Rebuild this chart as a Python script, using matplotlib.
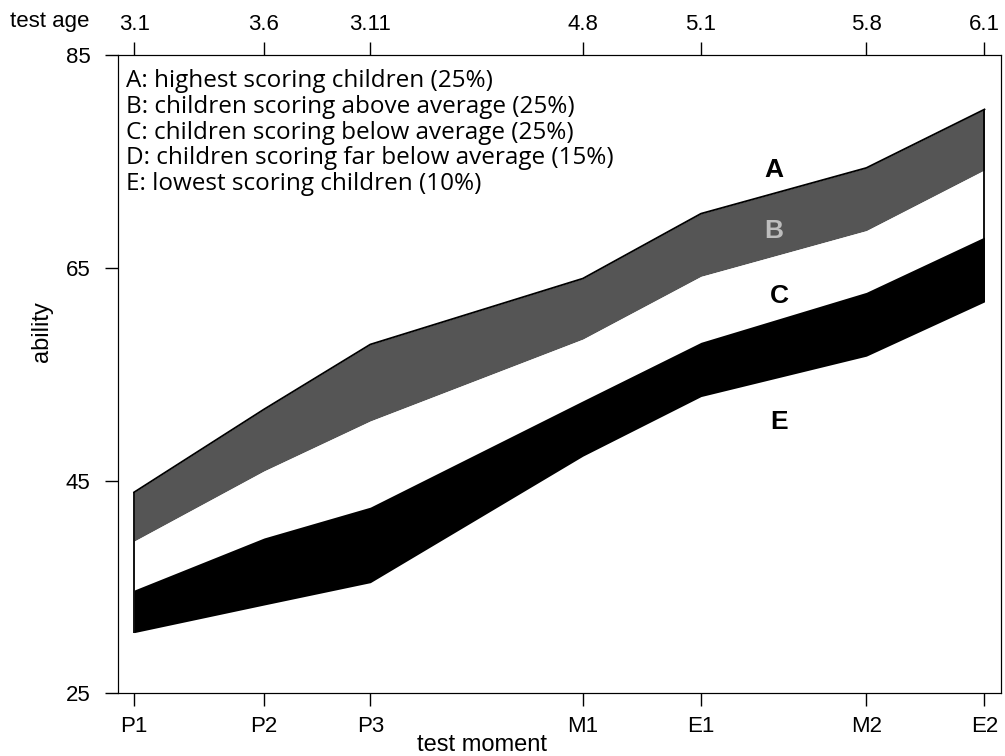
import numpy as np
import matplotlib
matplotlib.use("Agg")
import matplotlib.pyplot as plt

plt.rcParams['font.family'] = ['Liberation Sans', 'DejaVu Sans']

# test moments, placed by age in months
moments = ['P1', 'P2', 'P3', 'M1', 'E1', 'M2', 'E2']
ages = ['3.1', '3.6', '3.11', '4.8', '5.1', '5.8', '6.1']
age_months = [37, 42.5, 47, 56, 61, 68, 73]

# band boundaries (ability)
top_line = [43.9, 51.7, 57.8, 64.0, 70.1, 74.4, 79.9]
line_bc = [39.3, 45.9, 50.6, 58.3, 64.2, 68.5, 74.2]
line_cd = [34.7, 39.6, 42.5, 52.5, 58.0, 62.7, 67.9]
bottom_line = [30.7, 33.3, 35.4, 47.3, 52.9, 56.7, 61.8]

legend_lines = [
    'A: highest scoring children (25%)',
    'B: children scoring above average (25%)',
    'C: children scoring below average (25%)',
    'D: children scoring far below average (15%)',
    'E: lowest scoring children (10%)',
]

fig = plt.figure(figsize=(10.05, 7.56), dpi=100)
ax = fig.add_axes([0.117, 0.083, 0.879, 0.844])

x = np.array(age_months)
ax.fill_between(x, line_bc, top_line, color='#555555', lw=0)
ax.fill_between(x, line_cd, line_bc, color='white', lw=0)
ax.fill_between(x, bottom_line, line_cd, color='black', lw=0)
ax.plot(x, top_line, color='black', lw=1.3)
ax.vlines([x[0], x[-1]], [bottom_line[0], bottom_line[-1]], [top_line[0], top_line[-1]],
          color='black', lw=1.3)

ax.set_xlim(36.3, 73.7)
ax.set_ylim(25, 85)
ax.set_yticks([25, 45, 65, 85])
ax.set_xticks(x)
ax.set_xticklabels(moments)
ax.tick_params(direction='out', length=9.5, width=1, labelsize=16)
ax.tick_params(axis='x', pad=7)
ax.tick_params(axis='y', pad=10)

top = ax.twiny()
top.set_xlim(ax.get_xlim())
top.set_xticks(x)
top.set_xticklabels(ages)
top.tick_params(direction='out', length=9.5, width=1, labelsize=16, pad=5)

fig.text(10 / 1005, 1 - 22 / 756, 'test age', fontsize=16, va='center', ha='left')
fig.text(482 / 1005, 1 - 745 / 756, 'test moment', fontsize=17, va='center', ha='center')
fig.text(42 / 1005, 1 - 332 / 756, 'ability', fontsize=17, va='center', ha='center',
         rotation=90)

for i, line in enumerate(legend_lines):
    ax.text(36.64, 82.55 - i * 2.42, line, fontsize=17.5, va='center', ha='left',
            family=['Open Sans', 'DejaVu Sans'])

ax.text(64.1, 74.2, 'A', fontsize=19, fontweight='bold', ha='center', va='center')
ax.text(64.1, 68.5, 'B', fontsize=19, fontweight='bold', ha='center', va='center',
        color='#bdbdbd')
ax.text(64.3, 62.4, 'C', fontsize=19, fontweight='bold', ha='center', va='center')
ax.text(64.3, 50.5, 'E', fontsize=19, fontweight='bold', ha='center', va='center')

fig.savefig('out.png', dpi=100)
